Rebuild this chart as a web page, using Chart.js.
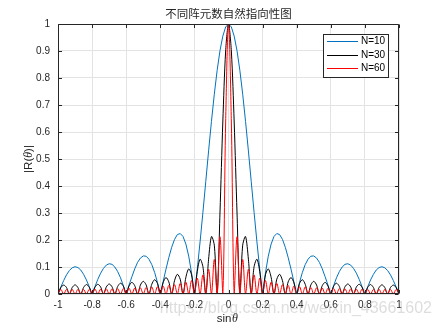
<!DOCTYPE html>
<html>
<head>
<meta charset="utf-8">
<script src="https://cdn.jsdelivr.net/npm/chart.js@4.4.1/dist/chart.umd.min.js"></script>
<style>
  body { margin: 0; background: #fff; }
</style>
</head>
<body>
<canvas id="chartDir" width="440" height="330"></canvas>
<script>
// sin(theta) sample positions
const sinTheta = [
  -1, -0.9833, -0.9667, -0.95, -0.9333, -0.9167, -0.9, -0.8833, -0.8667, -0.85, -0.8333, -0.8167,
  -0.8, -0.7833, -0.7667, -0.75, -0.7333, -0.7167, -0.7, -0.6833, -0.6667, -0.65, -0.6333, -0.6167,
  -0.6, -0.5833, -0.5667, -0.55, -0.5333, -0.5167, -0.5, -0.4833, -0.4667, -0.45, -0.4333, -0.4167,
  -0.4, -0.3833, -0.3667, -0.35, -0.3333, -0.3167, -0.3, -0.2833, -0.2667, -0.25, -0.2333, -0.2167,
  -0.2, -0.1833, -0.1667, -0.15, -0.1333, -0.1167, -0.1, -0.0833, -0.0667, -0.05, -0.0333, -0.0167,
  0,
  0.0167, 0.0333, 0.05, 0.0667, 0.0833, 0.1, 0.1167, 0.1333, 0.15, 0.1667, 0.1833, 0.2,
  0.2167, 0.2333, 0.25, 0.2667, 0.2833, 0.3, 0.3167, 0.3333, 0.35, 0.3667, 0.3833, 0.4,
  0.4167, 0.4333, 0.45, 0.4667, 0.4833, 0.5, 0.5167, 0.5333, 0.55, 0.5667, 0.5833, 0.6,
  0.6167, 0.6333, 0.65, 0.6667, 0.6833, 0.7, 0.7167, 0.7333, 0.75, 0.7667, 0.7833, 0.8,
  0.8167, 0.8333, 0.85, 0.8667, 0.8833, 0.9, 0.9167, 0.9333, 0.95, 0.9667, 0.9833, 1
];

const r10 = [
  0, 0.026, 0.050, 0.071, 0.087, 0.097, 0.101, 0.098, 0.089, 0.073, 0.052, 0.027,
  0, 0.027, 0.054, 0.077, 0.095, 0.107, 0.112, 0.110, 0.100, 0.083, 0.060, 0.031,
  0, 0.033, 0.064, 0.093, 0.117, 0.133, 0.141, 0.140, 0.129, 0.109, 0.080, 0.043,
  0, 0.046, 0.092, 0.135, 0.173, 0.202, 0.220, 0.224, 0.213, 0.185, 0.140, 0.078,
  0, 0.091, 0.193, 0.303, 0.417, 0.530, 0.639, 0.740, 0.828, 0.901, 0.955, 0.989,
  1,
  0.989, 0.955, 0.901, 0.828, 0.740, 0.639, 0.530, 0.417, 0.303, 0.193, 0.091, 0,
  0.078, 0.140, 0.185, 0.213, 0.224, 0.220, 0.202, 0.173, 0.135, 0.092, 0.046, 0,
  0.043, 0.080, 0.109, 0.129, 0.140, 0.141, 0.133, 0.117, 0.093, 0.064, 0.033, 0,
  0.031, 0.060, 0.083, 0.100, 0.110, 0.112, 0.107, 0.095, 0.077, 0.054, 0.027, 0,
  0.027, 0.052, 0.073, 0.089, 0.098, 0.101, 0.097, 0.087, 0.071, 0.050, 0.026, 0
];

const r30 = [
  0, 0.024, 0.033, 0.024, 0, 0.024, 0.034, 0.024, 0, 0.024, 0.035, 0.025,
  0, 0.025, 0.036, 0.026, 0, 0.026, 0.037, 0.027, 0, 0.028, 0.040, 0.029,
  0, 0.030, 0.043, 0.031, 0, 0.033, 0.047, 0.034, 0, 0.036, 0.053, 0.039,
  0, 0.042, 0.061, 0.045, 0, 0.049, 0.073, 0.055, 0, 0.062, 0.093, 0.071,
  0, 0.083, 0.129, 0.101, 0, 0.129, 0.213, 0.181, 0, 0.300, 0.637, 0.900,
  1,
  0.900, 0.637, 0.300, 0, 0.181, 0.213, 0.129, 0, 0.101, 0.129, 0.083, 0,
  0.071, 0.093, 0.062, 0, 0.055, 0.073, 0.049, 0, 0.045, 0.061, 0.042, 0,
  0.039, 0.053, 0.036, 0, 0.034, 0.047, 0.033, 0, 0.031, 0.043, 0.030, 0,
  0.029, 0.040, 0.028, 0, 0.027, 0.037, 0.026, 0, 0.026, 0.036, 0.025, 0,
  0.025, 0.035, 0.024, 0, 0.024, 0.034, 0.024, 0, 0.024, 0.033, 0.024, 0
];

const r60 = [
  0, 0.017, 0, 0.017, 0, 0.017, 0, 0.017, 0, 0.017, 0, 0.017,
  0, 0.018, 0, 0.018, 0, 0.019, 0, 0.019, 0, 0.020, 0, 0.020,
  0, 0.021, 0, 0.022, 0, 0.023, 0, 0.024, 0, 0.026, 0, 0.027,
  0, 0.029, 0, 0.032, 0, 0.035, 0, 0.039, 0, 0.044, 0, 0.050,
  0, 0.059, 0, 0.071, 0, 0.092, 0, 0.128, 0, 0.212, 0, 0.637,
  1,
  0.637, 0, 0.212, 0, 0.128, 0, 0.092, 0, 0.071, 0, 0.059, 0,
  0.050, 0, 0.044, 0, 0.039, 0, 0.035, 0, 0.032, 0, 0.029, 0,
  0.027, 0, 0.026, 0, 0.024, 0, 0.023, 0, 0.022, 0, 0.021, 0,
  0.020, 0, 0.020, 0, 0.019, 0, 0.019, 0, 0.018, 0, 0.018, 0,
  0.017, 0, 0.017, 0, 0.017, 0, 0.017, 0, 0.017, 0, 0.017, 0
];

const seriesNames = ['N=10', 'N=30', 'N=60'];
const seriesColors = ['#0072BD', '#000000', '#FF0000'];

function toPoints(ys) {
  return ys.map((y, i) => ({ x: sinTheta[i], y: y }));
}

// MATLAB style tick text: 1 not 1.0
function tickText(v) {
  const r = Math.round(v * 10) / 10;
  return r === 0 ? '0' : String(r);
}

const sansFont = '"Liberation Sans", Arial, sans-serif';
const textColor = '#262626';

// MATLAB-like axes box, inner ticks, title, labels, legend
const matlabLook = {
  id: 'matlabLook',
  afterDraw(chart) {
    const ctx = chart.ctx;
    const a = chart.chartArea;
    const xs = chart.scales.x;
    const ys = chart.scales.y;
    const L = Math.round(a.left) + 0.5, R = Math.round(a.right) - 0.5;
    const T = Math.round(a.top) + 0.5, B = Math.round(a.bottom) - 0.5;

    ctx.save();
    ctx.strokeStyle = textColor;
    ctx.lineWidth = 1;
    ctx.beginPath();
    ctx.rect(L, T, R - L, B - T);
    xs.ticks.forEach(t => {
      const px = Math.round(xs.getPixelForValue(t.value)) + 0.5;
      ctx.moveTo(px, B); ctx.lineTo(px, B - 3.5);
      ctx.moveTo(px, T); ctx.lineTo(px, T + 3.5);
    });
    ys.ticks.forEach(t => {
      const py = Math.round(ys.getPixelForValue(t.value)) + 0.5;
      ctx.moveTo(L, py); ctx.lineTo(L + 3.5, py);
      ctx.moveTo(R, py); ctx.lineTo(R - 3.5, py);
    });
    ctx.stroke();

    // title
    ctx.fillStyle = textColor;
    ctx.font = '11.5px "Noto Sans CJK SC", sans-serif';
    ctx.textAlign = 'center';
    ctx.textBaseline = 'middle';
    ctx.fillText('不同阵元数自然指向性图', (a.left + a.right) / 2, 14);

    // x label: sin + italic theta
    ctx.textAlign = 'left';
    ctx.textBaseline = 'alphabetic';
    const fN = '11.5px ' + sansFont;
    const fI = 'italic 12px "Liberation Serif", serif';
    ctx.font = fN;
    const wSin = ctx.measureText('sin').width;
    ctx.font = fI;
    const wTh = ctx.measureText('θ').width;
    let x0 = 227 - (wSin + wTh) / 2;
    ctx.font = fN;
    ctx.fillText('sin', x0, 322);
    ctx.font = fI;
    ctx.fillText('θ', x0 + wSin + 0.5, 322);

    // y label: |R(theta)|
    ctx.save();
    ctx.translate(32, (a.top + a.bottom) / 2);
    ctx.rotate(-Math.PI / 2);
    const parts = [['|R(', fN], ['θ', fI], [')|', fN]];
    let total = 0;
    parts.forEach(p => { ctx.font = p[1]; total += ctx.measureText(p[0]).width; });
    let cx = -total / 2;
    parts.forEach(p => {
      ctx.font = p[1];
      ctx.fillText(p[0], cx, 0);
      cx += ctx.measureText(p[0]).width;
    });
    ctx.restore();

    // legend
    const bx = 323.5, by = 34.5, bw = 65, bh = 43;
    ctx.fillStyle = '#fff';
    ctx.fillRect(bx, by, bw, bh);
    ctx.strokeStyle = textColor;
    ctx.strokeRect(bx, by, bw, bh);
    const rowsY = [41, 54.5, 68];
    ctx.font = '10px ' + sansFont;
    ctx.textBaseline = 'middle';
    chart.data.datasets.forEach((ds, i) => {
      const yy = Math.round(rowsY[i]) + 0.5;
      ctx.strokeStyle = ds.borderColor;
      ctx.beginPath();
      ctx.moveTo(327, yy);
      ctx.lineTo(358, yy);
      ctx.stroke();
      ctx.fillStyle = '#000';
      ctx.fillText(ds.label, 361, yy);
    });

    // watermark
    ctx.font = '16px ' + sansFont;
    ctx.textAlign = 'right';
    ctx.textBaseline = 'alphabetic';
    ctx.fillStyle = 'rgba(170,170,170,0.4)';
    ctx.fillText('https://blog.csdn.net/weixin_43661602', 432, 313);
    ctx.restore();
  }
};

const ctxDir = document.getElementById('chartDir').getContext('2d');
new Chart(ctxDir, {
  type: 'line',
  data: {
    datasets: [
      { label: seriesNames[0], data: toPoints(r10), borderColor: seriesColors[0], borderWidth: 1, tension: 0, order: 3 },
      { label: seriesNames[1], data: toPoints(r30), borderColor: seriesColors[1], borderWidth: 1, tension: 0.3, order: 2 },
      { label: seriesNames[2], data: toPoints(r60), borderColor: seriesColors[2], borderWidth: 1, tension: 0.35, order: 1 }
    ]
  },
  options: {
    responsive: false,
    animation: false,
    elements: { point: { radius: 0 } },
    layout: { padding: { top: 24, right: 41, bottom: 0, left: 0 } },
    plugins: { legend: { display: false }, tooltip: { enabled: false }, title: { display: false } },
    scales: {
      x: {
        type: 'linear',
        min: -1, max: 1,
        afterFit: s => { s.height = 36; },
        grid: { color: '#e3e3e3', drawTicks: false },
        border: { display: false },
        ticks: { stepSize: 0.2, padding: 5, maxRotation: 0, autoSkip: false, color: textColor,
                 font: { family: sansFont, size: 10 }, callback: tickText }
      },
      y: {
        min: 0, max: 1,
        afterFit: s => { s.width = 58; },
        grid: { color: '#e3e3e3', drawTicks: false },
        border: { display: false },
        ticks: { stepSize: 0.1, padding: 8, color: textColor,
                 font: { family: sansFont, size: 10 }, callback: tickText }
      }
    }
  },
  plugins: [matlabLook]
});
</script>
</body>
</html>
